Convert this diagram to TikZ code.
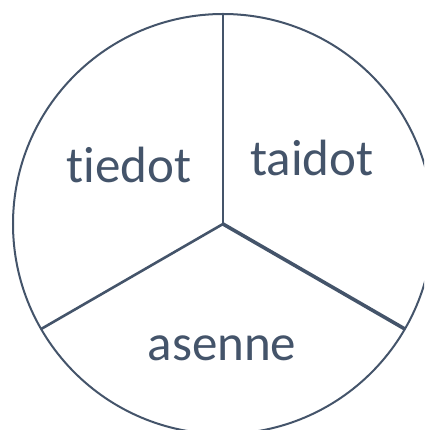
\documentclass[tikz,border=0pt]{standalone}
\usepackage{fontspec}
\setmainfont{Carlito}[Ligatures=NoCommon]
\usepackage{xcolor}
\usetikzlibrary{positioning, calc}
\definecolor{slate}{HTML}{44546A}

\begin{document}
\begin{tikzpicture}[x=1pt, y=1pt,
    rim/.style={draw=slate, line width=2pt},
    spoke/.style={draw=slate, line width=2.6pt},
    word/.style={anchor=base, text=slate, font=\fontsize{51}{55}\selectfont, inner sep=0pt}]

% ── frame: the circle runs out of the picture on the right and at the bottom
\useasboundingbox (-223,-206) rectangle (201,224);
\clip (-223,-206) rectangle (201,224);

% ── circle and its three spokes ───────────────────────────────────
\coordinate (c) at (0,0);
\coordinate (top) at (90:211);
\coordinate (lft) at (210:210);
\coordinate (rgt) at (330:210);

\draw[rim] (c) circle[radius=210];
\draw[spoke] (c) -- (top);
\draw[spoke] (c) -- (lft);
\draw[spoke, line width=3.6pt] (c) -- (rgt);

% ── labels ────────────────────────────────────────────────────────
\node[word] (tiedot) at (-94,41) {tiedot};
\node[word] (taidot) at (89,48) {taidot};
\node[word] (asenne) at (-1,-136) {asenne};

\end{tikzpicture}
\end{document}
